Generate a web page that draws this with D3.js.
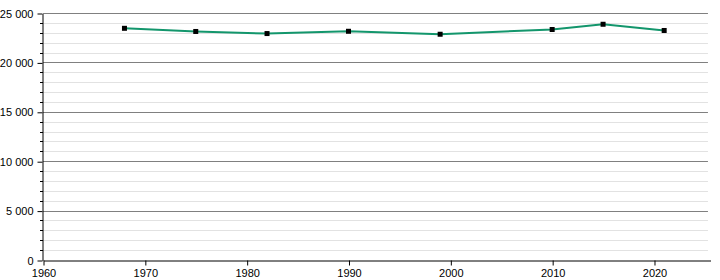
<!DOCTYPE html>
<html>
<head>
<meta charset="utf-8">
<script src="https://cdn.jsdelivr.net/npm/d3@7"></script>
<style>
  body { margin: 0; background: #fff; }
  text { font-family: "Liberation Sans", Arial, sans-serif; font-size: 11px; fill: #000; }
</style>
</head>
<body>
<div id="chart"></div>
<script>
const width = 720;
const height = 280;

// census years and population
const years = [1968, 1975, 1982, 1990, 1999, 2010, 2015, 2021];
const population = [23450, 23130, 22920, 23150, 22850, 23330, 23860, 23230];
const xTicks = [1960, 1970, 1980, 1990, 2000, 2010, 2020];
const yTicks = [0, 5000, 10000, 15000, 20000, 25000];

const margin = { top: 13, right: 10, bottom: 20, left: 43 };

const svg = d3.select("#chart").append("svg").attr("width", width).attr("height", height);

const x = d3.scaleLinear().domain([1960, 2025.5]).range([margin.left, width - margin.right]);
const y = d3.scaleLinear().domain([0, 25000]).range([height - margin.bottom, margin.top]);

const fmt = (d) => d3.format(",")(d).replace(/,/g, "\u00a0");

// minor grid every 1000
const minor = d3.range(1000, 25001, 1000).filter((d) => d % 5000 !== 0);
svg
  .append("g")
  .selectAll("line")
  .data(minor)
  .enter()
  .append("line")
  .attr("x1", x(1960))
  .attr("x2", x(2025.3))
  .attr("y1", (d) => Math.round(y(d)) + 0.5)
  .attr("y2", (d) => Math.round(y(d)) + 0.5)
  .attr("stroke", "#e2e2e2");

// major grid
svg
  .append("g")
  .selectAll("line")
  .data(yTicks.filter((d) => d > 0))
  .enter()
  .append("line")
  .attr("x1", x(1960))
  .attr("x2", x(2025.3))
  .attr("y1", (d) => Math.round(y(d)) + 0.5)
  .attr("y2", (d) => Math.round(y(d)) + 0.5)
  .attr("stroke", "#808080");

// y axis
const yAxis = svg
  .append("g")
  .attr("transform", `translate(${margin.left - 0.5},0.5)`)
  .call(d3.axisLeft(y).tickValues(yTicks).tickFormat(fmt).tickSize(5).tickPadding(4).tickSizeOuter(0));
yAxis.select(".domain").attr("stroke", "#000");
yAxis.selectAll("text").style("font-size", "11px").style("font-family", "'Liberation Sans', Arial, sans-serif");

// y minor ticks
svg
  .append("g")
  .selectAll("line")
  .data(minor)
  .enter()
  .append("line")
  .attr("x1", margin.left - 3)
  .attr("x2", margin.left)
  .attr("y1", (d) => Math.round(y(d)) + 0.5)
  .attr("y2", (d) => Math.round(y(d)) + 0.5)
  .attr("stroke", "#000");

// x axis
const xAxis = svg
  .append("g")
  .attr("transform", `translate(0.5,${Math.round(y(0)) + 0.5})`)
  .call(d3.axisBottom(x).tickValues(xTicks).tickFormat(d3.format("d")).tickSize(5).tickPadding(4).tickSizeOuter(0));
xAxis.select(".domain").attr("stroke", "#000");
xAxis.selectAll("text").style("font-size", "11px").style("font-family", "'Liberation Sans', Arial, sans-serif");

// population line
const data = years.map((yr, i) => ({ year: yr, value: population[i] }));
const line = d3
  .line()
  .x((d) => x(d.year))
  .y((d) => y(d.value));

svg
  .append("path")
  .datum(data)
  .attr("d", line)
  .attr("fill", "none")
  .attr("stroke", "#13966c")
  .attr("stroke-width", 2);

// markers
svg
  .append("g")
  .selectAll("rect")
  .data(data)
  .enter()
  .append("rect")
  .attr("x", (d) => x(d.year) - 2.5)
  .attr("y", (d) => y(d.value) - 2.5)
  .attr("width", 5)
  .attr("height", 5)
  .attr("fill", "#000");
</script>
</body>
</html>
